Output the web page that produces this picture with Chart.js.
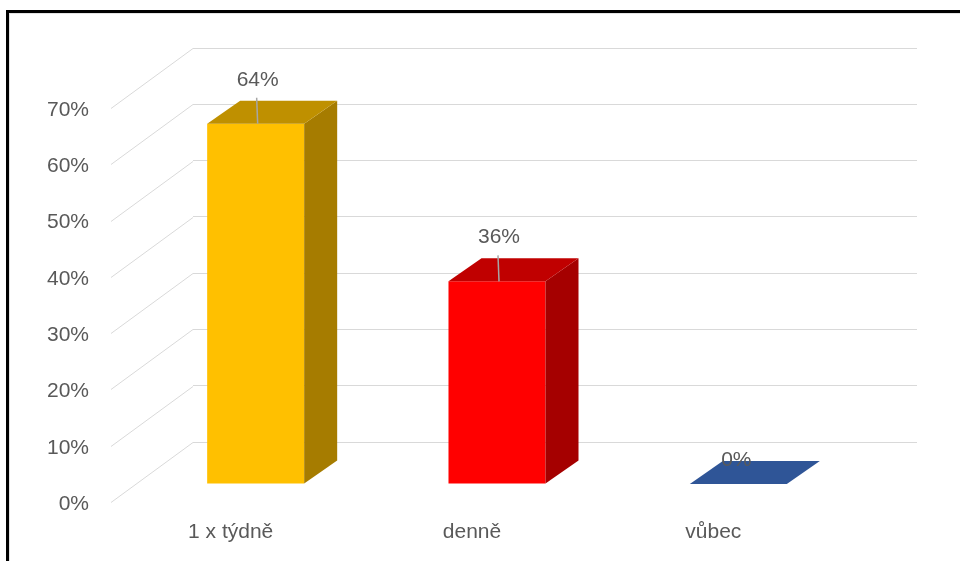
<!DOCTYPE html>
<html>
<head>
<meta charset="utf-8">
<script src="https://cdn.jsdelivr.net/npm/chart.js@4"></script>
<style>
  html, body { margin: 0; padding: 0; background: #fff; overflow: hidden; }
  #frame {
    position: absolute; left: 6px; top: 10px; width: 1200px; height: 800px;
    border-left: 3px solid #000; border-top: 3px solid #000;
    box-shadow: inset 1px 1px 0 #e3e3e3;
  }
  #chart { position: absolute; left: 0; top: 0; }
</style>
</head>
<body>
<div id="frame"></div>
<canvas id="chart" width="960" height="561"></canvas>
<script>
// data
var categories = ['1 x týdně', 'denně', 'vůbec'];
var shares = [64, 36, 0];
var tickMax = 70;
var tickStep = 10;

// colours: front, side, top
var frontColors = ['#FFC000', '#FF0000', '#2F5597'];
var sideColors = ['#A67C00', '#A50000', '#203864'];
var topColors = ['#BF9000', '#C00000', '#2F5597'];
var textColor = '#595959';
var gridColor = '#D9D9D9';
var fontFamily = '"Liberation Sans", Arial, sans-serif';
var fontSize = 21;

// 3d offsets
var WALL_DX = -82, WALL_DY = 60;  // back wall -> front edge of floor
var BAR_DX = -58, BAR_DY = 42;    // back wall -> bar front plane
var DEPTH_X = 33, DEPTH_Y = -23;  // bar depth

var threeD = {
    id: 'threeD',
    beforeDatasetsDraw: function (chart) {
        var ctx = chart.ctx, area = chart.chartArea, y = chart.scales.y;
        // side wall lines
        ctx.save();
        ctx.strokeStyle = gridColor;
        ctx.lineWidth = 1;
        y.ticks.forEach(function (t) {
            var py = Math.round(y.getPixelForValue(t.value)) + 0.5;
            ctx.beginPath();
            ctx.moveTo(area.left, py);
            ctx.lineTo(area.left + WALL_DX, py + WALL_DY);
            ctx.stroke();
        });
        ctx.restore();
        ctx.save();
        ctx.translate(BAR_DX, BAR_DY);
    },
    afterDatasetsDraw: function (chart) {
        var ctx = chart.ctx;
        var meta = chart.getDatasetMeta(0);
        meta.data.forEach(function (bar, i) {
            var p = bar.getProps(['x', 'y', 'base', 'width'], true);
            var l = p.x - p.width / 2, r = p.x + p.width / 2, t = p.y, b = p.base;
            if (b - t > 0.5) {
                ctx.fillStyle = sideColors[i];
                ctx.beginPath();
                ctx.moveTo(r, t);
                ctx.lineTo(r + DEPTH_X, t + DEPTH_Y);
                ctx.lineTo(r + DEPTH_X, b + DEPTH_Y);
                ctx.lineTo(r, b);
                ctx.closePath();
                ctx.fill();
            }
            ctx.fillStyle = topColors[i];
            ctx.beginPath();
            ctx.moveTo(l, t);
            ctx.lineTo(l + DEPTH_X, t + DEPTH_Y);
            ctx.lineTo(r + DEPTH_X, t + DEPTH_Y);
            ctx.lineTo(r, t);
            ctx.closePath();
            ctx.fill();
        });
        ctx.restore();

        // data labels
        ctx.save();
        ctx.font = fontSize + 'px ' + fontFamily;
        ctx.fillStyle = textColor;
        ctx.textAlign = 'center';
        ctx.textBaseline = 'middle';
        meta.data.forEach(function (bar, i) {
            var p = bar.getProps(['x', 'y'], true);
            var cx = p.x + BAR_DX, top = p.y + BAR_DY;
            var text = shares[i] + '%';
            if (shares[i] > 0) {
                var ly = top - 44;
                ctx.strokeStyle = '#A6A6A6';
                ctx.lineWidth = 1.5;
                ctx.beginPath();
                ctx.moveTo(cx + 1, ly + 18);
                ctx.lineTo(cx + 2, top);
                ctx.stroke();
                ctx.fillText(text, cx + 2, ly);
            } else {
                ctx.fillText(text, cx - 2, top - 24);
            }
        });
        ctx.restore();
    }
};

var chart = new Chart(document.getElementById('chart').getContext('2d'), {
    type: 'bar',
    data: {
        labels: categories,
        datasets: [{
            data: shares,
            backgroundColor: frontColors,
            borderWidth: 0,
            categoryPercentage: 1,
            barPercentage: 0.402
        }]
    },
    options: {
        responsive: false,
        animation: false,
        layout: { autoPadding: false, padding: { top: 48, right: 43, left: 0, bottom: 0 } },
        plugins: {
            legend: { display: false },
            tooltip: { enabled: false }
        },
        scales: {
            x: {
                grid: { display: false, drawTicks: false },
                border: { display: false },
                ticks: {
                    color: textColor,
                    font: { family: fontFamily, size: fontSize },
                    padding: 78,
                    labelOffset: -83,
                    maxRotation: 0
                },
                afterFit: function (s) {
                    s.height = 119;
                    s.paddingLeft = 0; s.paddingRight = 0;
                }
            },
            y: {
                min: 0,
                max: tickMax,
                grid: { color: gridColor, lineWidth: 1, drawTicks: false },
                border: { display: false },
                ticks: {
                    stepSize: tickStep,
                    color: textColor,
                    font: { family: fontFamily, size: fontSize },
                    padding: 104,
                    labelOffset: WALL_DY + 2,
                    callback: function (v) { return v + '%'; }
                },
                afterFit: function (s) {
                    s.width = 193;
                    s.paddingTop = 0; s.paddingBottom = 0;
                }
            }
        }
    },
    plugins: [threeD]
});
</script>
</body>
</html>
